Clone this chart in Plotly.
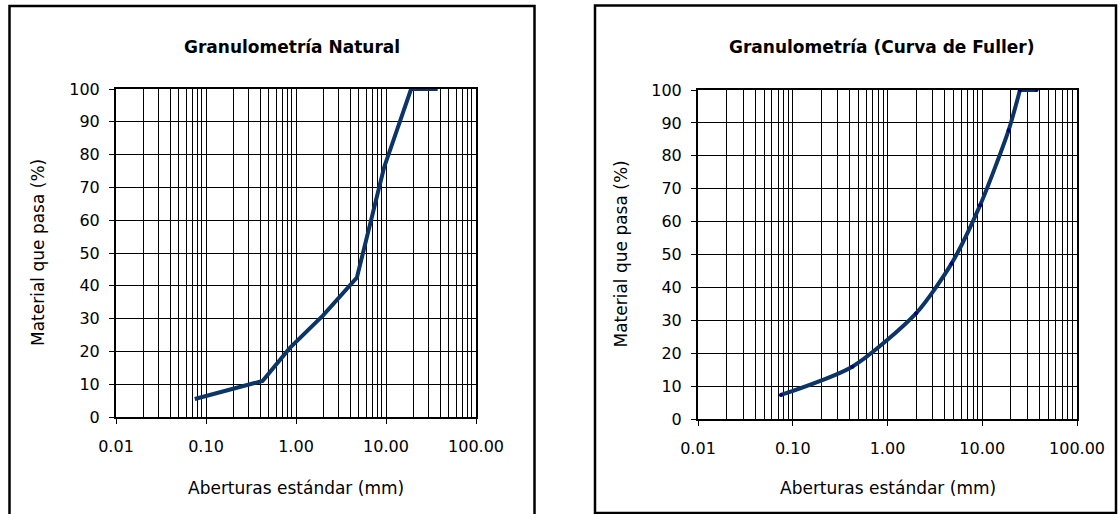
import plotly.graph_objects as go

# ---- data ----
natural_size_mm = [0.075, 0.15, 0.30, 0.425, 0.85, 2.0, 4.75, 9.5, 19.0, 37.5]
natural_pass_pct = [5.5, 7.8, 9.9, 11.0, 21.0, 31.0, 42.5, 76.0, 100.0, 100.0]

fuller_size_mm = [0.075, 0.425, 2.0, 4.75, 9.5, 19.0, 25.0, 37.5]
fuller_pass_pct = [7.3, 15.9, 32.1, 47.3, 65.0, 87.8, 100.0, 100.0]

x_tick_vals = [0.01, 0.1, 1, 10, 100]
x_tick_text = ["0.01", "0.10", "1.00", "10.00", "100.00"]
minor_digits = [2, 3, 4, 5, 6, 7, 8, 9]
minor_vals = [d * v for v in x_tick_vals[:-1] for d in minor_digits]

titles = ["Granulometría Natural", "Granulometría (Curva de Fuller)"]
x_title = "Aberturas estándar (mm)"
y_title = "Material que pasa (%)"

W, H = 1120, 514
FONT = "DejaVu Sans, Arial, sans-serif"
FS = 16
LINE_COLOR = "#0b3566"


def fx(p):
    return p / W


def fy(p):
    return (H - p) / H


fig = go.Figure()
fig.add_trace(go.Scatter(x=natural_size_mm, y=natural_pass_pct, mode="lines",
                         line=dict(color=LINE_COLOR, width=4), xaxis="x", yaxis="y",
                         showlegend=False))
# smoothed Fuller curve up to the first 100 % point, then the flat tail
k = fuller_pass_pct.index(100.0) + 1
fig.add_trace(go.Scatter(x=fuller_size_mm[:k], y=fuller_pass_pct[:k], mode="lines+markers",
                         line=dict(color=LINE_COLOR, width=4, shape="spline", smoothing=0.7),
                         marker=dict(size=4, color="#000080"),
                         xaxis="x2", yaxis="y2", showlegend=False))
fig.add_trace(go.Scatter(x=fuller_size_mm[k - 1:], y=fuller_pass_pct[k - 1:], mode="lines+markers",
                         line=dict(color=LINE_COLOR, width=4),
                         marker=dict(size=4, color="#000080"),
                         xaxis="x2", yaxis="y2", showlegend=False))


def xaxis(domain, anchor):
    return dict(type="log", range=[-2, 2], domain=domain, anchor=anchor,
                tickvals=x_tick_vals, ticktext=x_tick_text,
                showgrid=True, gridcolor="black", gridwidth=1,
                minor=dict(tickvals=minor_vals, showgrid=True, gridcolor="black",
                           gridwidth=1, ticks=""),
                showline=True, mirror=True, linecolor="black", linewidth=2,
                ticks="outside", ticklen=5, tickcolor="black", tickwidth=1,
                ticklabelstandoff=9,
                tickfont=dict(family=FONT, size=FS, color="black"),
                zeroline=False, automargin=False, fixedrange=True)


def yaxis(domain, anchor):
    return dict(range=[0, 100], domain=domain, anchor=anchor, dtick=10,
                showgrid=True, gridcolor="black", gridwidth=1,
                showline=True, mirror=True, linecolor="black", linewidth=2,
                ticks="outside", ticklen=5, tickcolor="black", tickwidth=1,
                ticklabelstandoff=6,
                tickfont=dict(family=FONT, size=FS, color="black"),
                zeroline=False, automargin=False, fixedrange=True)


annotations = []
shapes = []
panels = [
    dict(x0=116, x1=476, top=89, bottom=417, box=(9.5, 534.5, 6, 530), tcx=292, ytx=38),
    dict(x0=698, x1=1077, top=90, bottom=419, box=(595, 1116, 5.5, 513), tcx=882, ytx=620),
]
for i, p in enumerate(panels):
    bx0, bx1, bt, bb = p["box"]
    shapes.append(dict(type="rect", xref="paper", yref="paper",
                       x0=fx(bx0), x1=fx(bx1), y0=fy(bb), y1=fy(bt),
                       line=dict(color="black", width=2.5), layer="below"))
    annotations.append(dict(text="<b>" + titles[i] + "</b>", xref="paper", yref="paper",
                            x=fx(p["tcx"]), y=fy(47), showarrow=False,
                            xanchor="center", yanchor="middle",
                            font=dict(family=FONT, size=17, color="black")))
    cx = (p["x0"] + p["x1"]) / 2
    annotations.append(dict(text=x_title, xref="paper", yref="paper",
                            x=fx(cx), y=fy(488), showarrow=False,
                            xanchor="center", yanchor="middle",
                            font=dict(family=FONT, size=17, color="black")))
    annotations.append(dict(text=y_title, xref="paper", yref="paper",
                            x=fx(p["ytx"]), y=fy((p["top"] + p["bottom"]) / 2),
                            showarrow=False, textangle=-90,
                            xanchor="center", yanchor="middle",
                            font=dict(family=FONT, size=17, color="black")))

fig.update_layout(
    width=W, height=H,
    margin=dict(l=0, r=0, t=0, b=0),
    paper_bgcolor="white", plot_bgcolor="white",
    xaxis=xaxis([fx(116), fx(476)], "y"),
    yaxis=yaxis([fy(417), fy(89)], "x"),
    xaxis2=xaxis([fx(698), fx(1077)], "y2"),
    yaxis2=yaxis([fy(419), fy(90)], "x2"),
    annotations=annotations,
    shapes=shapes,
)

# remove the browser's default 8px body margin so the figure fills the window
fig.write_html("out.html",
               config={"displayModeBar": False},
               post_script="document.body.style.margin='0';document.body.style.overflow='hidden';")
